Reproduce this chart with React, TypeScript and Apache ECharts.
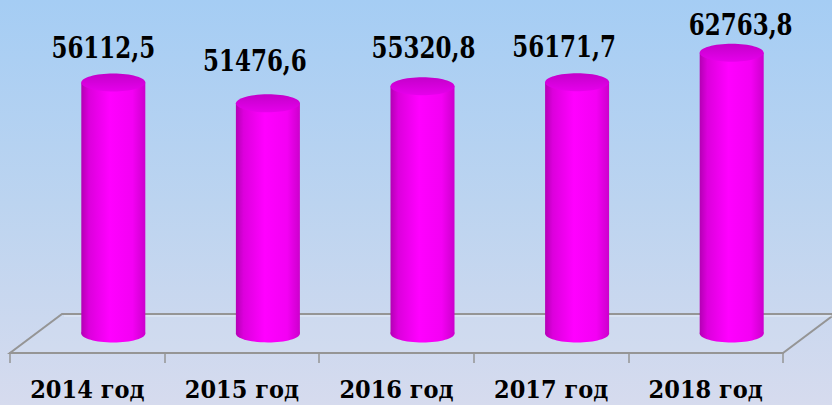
import React, { useEffect, useRef } from "react";
import * as echarts from "echarts";

const categories = ["2014 год", "2015 год", "2016 год", "2017 год", "2018 год"];
const values = [56112.5, 51476.6, 55320.8, 56171.7, 62763.8];
// small manual nudges of the value labels relative to each cylinder top (px)
const labelNudgeX = [-10, -13, 1, -13, 9];
const labelNudgeY = [-35, -43, -39, -36, -28];

const DEPTH_X = 52;
const DEPTH_Y = -39;
const SERIF = "DejaVu Serif Condensed, DejaVu Serif, serif";

export default function App() {
  const ref = useRef<HTMLDivElement>(null);
  useEffect(() => {
    document.body.style.margin = "0";
    const chart = echarts.init(ref.current!, null, { renderer: "svg" });
    const bodyGrad = () =>
      new echarts.graphic.LinearGradient(0, 0, 1, 0, [
        { offset: 0, color: "#b400b4" },
        { offset: 0.12, color: "#dc00dc" },
        { offset: 0.45, color: "#ff00ff" },
        { offset: 0.8, color: "#f400f4" },
        { offset: 1, color: "#cc00cc" },
      ]);
    const topGrad = () =>
      new echarts.graphic.LinearGradient(0, 0, 0, 1, [
        { offset: 0, color: "#c400ca" },
        { offset: 1, color: "#e600ec" },
      ]);
    const option: any = {
      animation: false,
      grid: { left: 10, right: 49, top: 40, bottom: 52 },
      xAxis: {
        type: "category",
        data: categories,
        boundaryGap: true,
        axisLine: { show: true, lineStyle: { color: "#959595", width: 2 } },
        axisTick: { show: true, length: 10, lineStyle: { color: "#959595", width: 1.5 } },
        axisLabel: {
          interval: 0,
          margin: 24,
          color: "#000",
          fontSize: 25,
          fontWeight: "bold",
          fontFamily: SERIF,
        },
      },
      yAxis: { type: "value", min: 0, max: 70000, show: false, splitLine: { show: false } },
      series: [
        {
          type: "custom",
          z: 1,
          data: [[0, 0]],
          renderItem: (params: any, api: any) => {
            const band = api.size([1, 0])[0];
            const p0 = api.coord([0, 0]);
            const p4 = api.coord([categories.length - 1, 0]);
            const xl = p0[0] - band / 2;
            const xr = p4[0] + band / 2;
            const y = p0[1];
            return {
              type: "group",
              children: [
                {
                  type: "polygon",
                  shape: {
                    points: [
                      [xl, y],
                      [xr, y],
                      [xr + DEPTH_X, y + DEPTH_Y],
                      [xl + DEPTH_X, y + DEPTH_Y],
                    ],
                  },
                  style: { fill: "rgba(255,255,255,0.06)", stroke: "#959595", lineWidth: 2 },
                },
                {
                  type: "polyline",
                  shape: {
                    points: [
                      [xl + DEPTH_X + 2, y + DEPTH_Y + 2],
                      [xr + DEPTH_X, y + DEPTH_Y + 2],
                    ],
                  },
                  style: { stroke: "rgba(255,255,255,0.5)", lineWidth: 1, fill: null },
                },
              ],
            };
          },
        },
        {
          type: "custom",
          z: 2,
          data: values.map((v, i) => [i, v]),
          renderItem: (params: any, api: any) => {
            const i = api.value(0);
            const v = api.value(1);
            const band = api.size([1, 0])[0];
            const base = api.coord([i, 0]);
            const top = api.coord([i, v]);
            const cx = base[0] + DEPTH_X / 2;
            const by = base[1] + DEPTH_Y / 2;
            const ty = top[1] + DEPTH_Y / 2;
            const rx = band * 0.207;
            const ry = 9;
            const idx = params.dataIndex;
            return {
              type: "group",
              children: [
                {
                  type: "ellipse",
                  shape: { cx, cy: by, rx, ry },
                  style: { fill: bodyGrad() },
                },
                {
                  type: "rect",
                  shape: { x: cx - rx, y: ty, width: rx * 2, height: by - ty },
                  style: { fill: bodyGrad() },
                },
                {
                  type: "ellipse",
                  shape: { cx, cy: ty, rx, ry },
                  style: { fill: topGrad() },
                },
                {
                  type: "text",
                  x: cx + labelNudgeX[idx],
                  y: ty + labelNudgeY[idx],
                  scaleX: 0.88,
                  style: {
                    text: v.toFixed(1).replace(".", ","),
                    x: 0,
                    y: 0,
                    align: "center",
                    verticalAlign: "middle",
                    fill: "#000",
                    fontSize: 29,
                    fontWeight: "bold",
                    fontFamily: SERIF,
                  },
                },
              ],
            };
          },
        },
      ],
    };
    chart.setOption(option);
    return () => chart.dispose();
  }, []);
  return (
    <div
      ref={ref}
      style={{
        position: "fixed",
        left: 0,
        top: 0,
        width: 832,
        height: 405,
        background: "linear-gradient(to bottom, #a5cdf4 0%, #bcd4f0 50%, #d6dbee 100%)",
      }}
    />
  );
}
